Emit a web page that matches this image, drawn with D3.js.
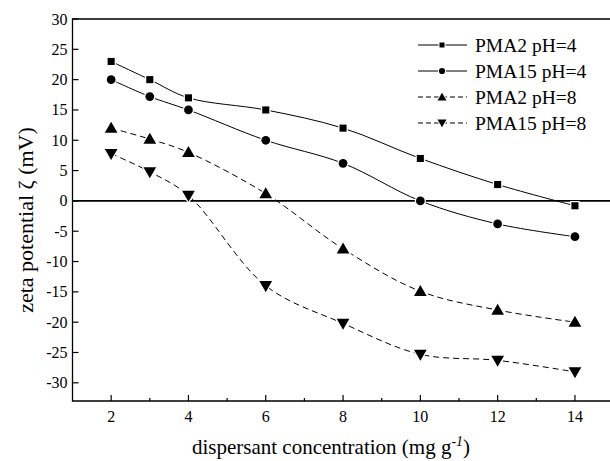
<!DOCTYPE html>
<html>
<head>
<meta charset="utf-8">
<script src="https://cdn.jsdelivr.net/npm/d3@7"></script>
<style>
  body { margin: 0; background: #fff; }
</style>
</head>
<body>
<div class="container"></div>
<script>
// data
const conc = [2, 3, 4, 6, 8, 10, 12, 14];
const pma2ph4 = [23, 20, 17, 15, 12, 7, 2.7, -0.8];
const pma15ph4 = [20, 17.2, 15, 10, 6.2, 0, -3.8, -5.9];
const pma2ph8 = [12, 10.2, 8, 1.2, -7.9, -14.9, -18, -20];
const pma15ph8 = [7.8, 4.8, 0.9, -14, -20.2, -25.3, -26.3, -28.2];
const seriesNames = ['PMA2 pH=4', 'PMA15 pH=4', 'PMA2 pH=8', 'PMA15 pH=8'];
const xTicks = [2, 4, 6, 8, 10, 12, 14];
const yTicks = [30, 25, 20, 15, 10, 5, 0, -5, -10, -15, -20, -25, -30];

const W = 610, H = 461;
const svg = d3.select('.container')
  .append('svg')
  .attr('width', W)
  .attr('height', H)
  .attr('font-family', "'Liberation Serif', 'Times New Roman', 'DejaVu Serif', serif");

const mLeft = 72.5, mTop = 19, mBottom = 401;
const x = d3.scaleLinear().domain([1, 15]).range([mLeft, mLeft + 14 * 38.65]);
const y = d3.scaleLinear().domain([30, -33]).range([mTop, mBottom]);

// frame (right edge falls outside the picture)
svg.append('path')
  .attr('d', `M${W + 2},${mTop}H${mLeft}V${mBottom}H${W + 2}`)
  .attr('fill', 'none')
  .attr('stroke', '#000')
  .attr('stroke-width', 1.3);

// y ticks (inward) and labels
const yg = svg.append('g');
yg.selectAll('line').data(yTicks).join('line')
  .attr('x1', mLeft).attr('x2', mLeft + 6)
  .attr('y1', d => y(d)).attr('y2', d => y(d))
  .attr('stroke', '#000').attr('stroke-width', 1.2);
yg.selectAll('text').data(yTicks).join('text')
  .attr('x', mLeft - 5).attr('y', d => y(d) + 5.5)
  .attr('text-anchor', 'end')
  .attr('font-size', 16)
  .text(d => d);

// x ticks: major with labels, minor at odd values
const xg = svg.append('g');
xg.selectAll('line.major').data(xTicks).join('line')
  .attr('class', 'major')
  .attr('x1', d => x(d)).attr('x2', d => x(d))
  .attr('y1', mBottom).attr('y2', mBottom - 6)
  .attr('stroke', '#000').attr('stroke-width', 1.2);
xg.selectAll('line.minor').data(d3.range(3, 16, 2)).join('line')
  .attr('class', 'minor')
  .attr('x1', d => x(d)).attr('x2', d => x(d))
  .attr('y1', mBottom).attr('y2', mBottom - 3)
  .attr('stroke', '#000').attr('stroke-width', 1.2);
xg.selectAll('text').data(xTicks).join('text')
  .attr('x', d => x(d)).attr('y', mBottom + 21)
  .attr('text-anchor', 'middle')
  .attr('font-size', 16)
  .text(d => d);

// zero line
svg.append('line')
  .attr('x1', mLeft).attr('x2', W)
  .attr('y1', y(0)).attr('y2', y(0))
  .attr('stroke', '#000').attr('stroke-width', 1.6);

// axis titles
svg.append('text')
  .attr('transform', `translate(33,${(mTop + mBottom) / 2 + 10}) rotate(-90)`)
  .attr('text-anchor', 'middle')
  .attr('font-size', 22)
  .text('zeta potential ζ (mV)');

const xt = svg.append('text')
  .attr('x', 331).attr('y', 454)
  .attr('text-anchor', 'middle')
  .attr('font-size', 21);
xt.append('tspan').text('dispersant concentration (mg g');
xt.append('tspan').attr('dy', -8).attr('font-size', 14).text('-');
xt.append('tspan').attr('font-size', 14).attr('font-style', 'italic').text('1');
xt.append('tspan').attr('dy', 8).text(')');

// series
const allValues = [pma2ph4, pma15ph4, pma2ph8, pma15ph8];
const symbols = [d3.symbolSquare, d3.symbolCircle, d3.symbolTriangle, d3.symbolTriangle];
const symSize = [50, 60, 70, 70];
const dashes = [null, null, '6,4', '6,4'];

const line = d3.line()
  .x(d => x(d[0]))
  .y(d => y(d[1]))
  .curve(d3.curveCatmullRom.alpha(0.5));

allValues.forEach((vals, i) => {
  const pts = conc.map((c, j) => [c, vals[j]]);
  svg.append('path')
    .attr('d', line(pts))
    .attr('fill', 'none')
    .attr('stroke', '#000')
    .attr('stroke-width', 1)
    .attr('stroke-dasharray', dashes[i]);

  svg.append('g').selectAll('path').data(pts).join('path')
    .attr('transform', d => `translate(${x(d[0])},${y(d[1]) + (i === 3 ? -1 : i === 2 ? 1 : 0)})` + (i === 3 ? ' rotate(180)' : ''))
    .attr('d', d3.symbol(symbols[i], symSize[i]))
    .attr('fill', '#000')
    .attr('stroke', '#fff')
    .attr('stroke-width', 2.5)
    .attr('paint-order', 'stroke');
});

// legend
const lg = svg.append('g');
seriesNames.forEach((name, i) => {
  const row = lg.append('g').attr('transform', `translate(0,${45 + i * 26})`);
  row.append('line')
    .attr('x1', 418).attr('x2', 467)
    .attr('stroke', '#000').attr('stroke-width', 1)
    .attr('stroke-dasharray', i < 2 ? null : '5,3');
  row.append('path')
    .attr('transform', `translate(442,${i === 3 ? -1 : i === 2 ? 1 : 0})` + (i === 3 ? ' rotate(180)' : ''))
    .attr('d', d3.symbol(symbols[i], symSize[i] * 0.5))
    .attr('fill', '#000')
    .attr('stroke', '#fff')
    .attr('stroke-width', 2)
    .attr('paint-order', 'stroke');
  row.append('text')
    .attr('x', 475).attr('y', 6.5)
    .attr('font-size', 19.5)
    .text(name);
});
</script>
</body>
</html>
